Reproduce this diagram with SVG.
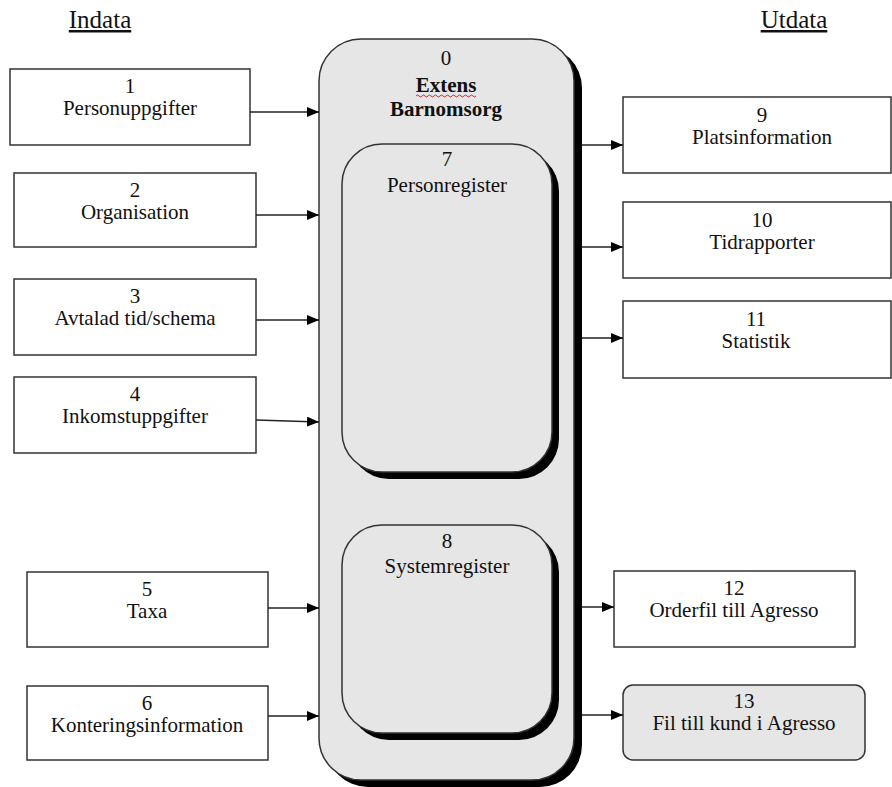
<svg xmlns="http://www.w3.org/2000/svg" width="892" height="787" viewBox="0 0 892 787">
<style>
text{font-family:"Liberation Serif","Times New Roman",serif;font-size:21px;fill:#111;text-anchor:middle}
.hdr{font-size:25px;text-decoration:underline}
.b{font-weight:bold}
.box{fill:#fff;stroke:#333;stroke-width:1.5}
.gray{fill:#e6e6e6;stroke:#333;stroke-width:1.5}
.sh{fill:#000}
.c{stroke:#222;stroke-width:1.5;fill:none;marker-end:url(#ah)}
</style>
<defs>
<marker id="ah" markerWidth="12" markerHeight="10" refX="12" refY="5" orient="auto" markerUnits="userSpaceOnUse">
<path d="M0,0 L12,5 L0,10 Z" fill="#000"/>
</marker>
</defs>
<text class="hdr" x="100" y="28">Indata</text>
<text class="hdr" x="794" y="28">Utdata</text>

<g id="n0">
<rect class="sh" x="326" y="46" width="256" height="741" rx="42"/>
<rect class="gray" x="319" y="39" width="255" height="741" rx="42"/>
<text x="446" y="65">0</text>
<text class="b" x="446" y="92">Extens</text>
<path d="M416,96 q1.5,-2 3,0 t3,0 t3,0 t3,0 t3,0 t3,0 t3,0 t3,0 t3,0 t3,0 t3,0 t3,0 t3,0 t3,0 t3,0 t3,0 t3,0 t3,0 t3,0 t3,0" fill="none" stroke="#e02020" stroke-width="1"/>
<text class="b" x="446" y="116">Barnomsorg</text>
</g>
<g id="n7">
<rect class="sh" x="349" y="151" width="210" height="328" rx="40"/>
<rect class="gray" x="342" y="144" width="210" height="328" rx="40"/>
<text x="447" y="166">7</text>
<text x="447" y="192">Personregister</text>
</g>
<g id="n8">
<rect class="sh" x="349" y="532" width="210" height="208" rx="40"/>
<rect class="gray" x="342" y="525" width="210" height="208" rx="40"/>
<text x="447" y="548">8</text>
<text x="447" y="573">Systemregister</text>
</g>

<g id="n1"><rect class="box" x="10" y="69" width="240" height="76"/><text x="130" y="93">1</text><text x="130" y="115">Personuppgifter</text></g>
<g id="n2"><rect class="box" x="14" y="173" width="242" height="74"/><text x="135" y="197">2</text><text x="135" y="219">Organisation</text></g>
<g id="n3"><rect class="box" x="14" y="279" width="242" height="76"/><text x="135" y="303">3</text><text x="135" y="325">Avtalad tid/schema</text></g>
<g id="n4"><rect class="box" x="14" y="377" width="242" height="76"/><text x="135" y="401">4</text><text x="135" y="423">Inkomstuppgifter</text></g>
<g id="n5"><rect class="box" x="27" y="572" width="241" height="75"/><text x="147" y="596">5</text><text x="147" y="618">Taxa</text></g>
<g id="n6"><rect class="box" x="27" y="686" width="241" height="74"/><text x="147" y="710">6</text><text x="147" y="732">Konteringsinformation</text></g>

<g id="n9"><rect class="box" x="623" y="97" width="268" height="76"/><text x="762" y="122">9</text><text x="762" y="144">Platsinformation</text></g>
<g id="n10"><rect class="box" x="623" y="202" width="268" height="76"/><text x="762" y="227">10</text><text x="762" y="249">Tidrapporter</text></g>
<g id="n11"><rect class="box" x="623" y="301" width="268" height="77"/><text x="756" y="326">11</text><text x="756" y="348">Statistik</text></g>
<g id="n12"><rect class="box" x="614" y="571" width="241" height="76"/><text x="734" y="595">12</text><text x="734" y="617">Orderfil till Agresso</text></g>
<g id="n13"><rect class="gray" x="623" y="685" width="242" height="75" rx="10"/><text x="744" y="708">13</text><text x="744" y="730">Fil till kund i Agresso</text></g>

<g id="connectors">
<path class="c" d="M250,112 L319,112"/>
<path class="c" d="M256,215 L319,215"/>
<path class="c" d="M256,320 L319,320"/>
<path class="c" d="M256,420 L319,422"/>
<path class="c" d="M268,608 L319,608"/>
<path class="c" d="M268,716 L319,716"/>
<path class="c" d="M582,145 L623,145"/>
<path class="c" d="M582,247 L623,247"/>
<path class="c" d="M582,338 L623,338"/>
<path class="c" d="M582,607 L614,607"/>
<path class="c" d="M582,715 L623,715"/>
</g>
</svg>
